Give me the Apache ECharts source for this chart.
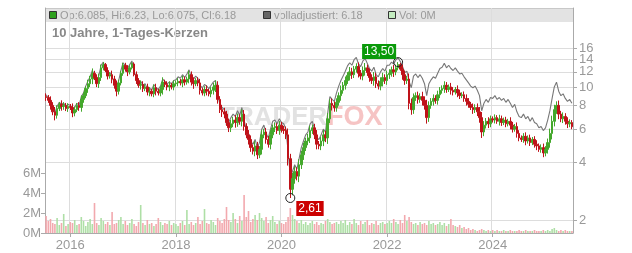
<!DOCTYPE html>
<html><head><meta charset="utf-8">
<script src="https://cdn.jsdelivr.net/npm/echarts@6/dist/echarts.min.js"></script>
<style>html,body{margin:0;padding:0;background:#fff}#c{width:632px;height:253px}</style>
</head><body><div id="c"></div>
<script>
// half-monthly periods starting 2015-07-16
const startYear = 2015, startMonth = 7, startDay = 16;
const periodCount = 240;
const yearTickLabels = ['2016-01-01','2018-01-01','2020-01-01','2022-01-01','2024-01-01'];
const priceTicks = [2,4,6,8,10,12,14,16];
const volumeTicks = [0,2,4,6]; // millions
const firstOpen = 8.9;
const closes = [
 8.8,8.5,8.0,7.4,7.1,7.7,8.1,7.9,8.0,7.7,7.9,7.8,
 7.3,7.6,8.0,7.8,8.6,9.0,9.8,10.4,11.0,11.8,11.2,10.4,11.2,12.6,13.1,12.2,11.4,11.6,11.0,10.2,9.5,10.5,11.8,13.0,
 12.4,12.0,12.6,13.2,11.6,10.8,10.2,10.3,9.8,10.0,9.4,9.5,9.2,9.9,9.5,9.3,9.7,10.6,10.3,10.0,10.2,10.0,10.4,10.5,
 10.7,10.5,10.9,10.6,11.0,11.6,10.6,10.4,10.8,10.5,9.6,9.3,9.7,9.5,9.2,9.6,10.0,10.2,8.6,7.6,7.4,7.2,6.5,6.1,
 6.4,6.7,6.5,6.9,6.6,7.2,6.2,5.6,5.3,4.8,4.6,4.9,4.4,4.7,5.6,5.8,5.3,5.0,5.6,6.1,6.2,5.9,6.3,6.0,
 5.9,5.6,4.2,2.9,3.3,3.6,3.4,3.9,4.4,4.8,5.2,5.4,5.9,6.1,5.6,5.0,4.9,5.2,5.6,5.4,6.8,8.2,8.0,7.8,
 8.3,9.0,9.6,10.2,10.8,11.5,12.0,11.6,12.4,12.8,11.8,11.4,12.2,12.6,11.9,11.2,10.8,11.3,10.4,10.1,10.7,11.2,10.8,11.6,
 11.8,12.3,12.0,12.6,13.1,12.4,11.6,10.8,11.0,8.2,7.6,8.8,9.0,8.6,8.9,8.5,8.0,6.9,8.0,8.4,8.7,8.5,9.1,9.6,
 9.8,10.2,9.7,10.0,9.6,9.4,9.7,9.3,9.0,9.1,8.7,8.4,8.1,7.8,7.6,7.8,7.4,6.9,5.8,6.3,6.6,6.4,6.8,6.7,
 6.9,6.6,6.8,6.5,6.7,6.4,6.6,6.3,6.0,6.2,5.7,5.4,5.3,5.5,5.2,5.4,5.1,5.3,5.0,4.9,4.7,4.8,4.5,4.7,
 5.1,5.7,6.6,7.6,8.0,7.2,6.8,7.0,6.6,6.4,6.5,6.18
];
// intraday range beyond the candle body, in percent, per period
const wickPct = [
 4,3,5,4,6,4,3,5,4,3,4,3,
 5,4,3,4,5,4,3,5,4,6,3,4,5,4,3,2,4,3,5,4,6,4,3,3,
 3,5,3,2,2,4,3,5,4,3,4,5,3,4,5,3,4,6,3,4,5,3,4,3,
 4,3,5,4,3,5,4,6,3,4,5,3,4,5,3,4,5,6,5,4,6,5,4,5,
 5,4,6,5,4,6,5,4,6,5,4,6,5,4,6,4,5,4,6,4,5,4,5,4,
 4,5,8,6,7,6,5,7,5,6,4,5,6,4,5,6,4,5,6,5,7,5,6,5,
 5,4,6,4,5,4,6,5,4,4,5,4,5,6,4,5,4,6,5,4,5,6,4,5,
 5,4,6,4,3,2,6,5,4,7,6,5,4,5,4,6,5,7,5,4,5,4,5,4,
 4,5,4,3,5,4,3,5,4,3,4,5,4,3,5,4,5,6,7,5,4,5,4,3,
 4,3,5,4,3,4,3,5,4,3,5,4,3,4,5,3,4,3,4,5,3,4,5,4,
 5,6,7,6,5,6,4,5,4,5,4,3
];
const adjusted = [
 9.1,8.8,8.2,7.6,7.3,7.9,8.3,8.1,8.2,7.9,8.1,8.0,
 7.5,7.8,8.2,8.0,8.9,9.3,10.1,10.7,11.3,12.2,11.5,10.7,11.5,13.0,13.5,12.6,11.7,11.9,11.3,10.5,9.8,10.8,12.2,13.4,
 12.9,12.5,13.1,13.7,12.1,11.2,10.6,10.7,10.2,10.4,9.8,9.9,9.6,10.3,9.9,9.7,10.1,11.0,10.7,10.4,10.6,10.4,10.8,10.9,
 11.3,11.1,11.6,11.2,11.7,12.3,11.2,11.0,11.4,11.1,10.2,9.9,10.3,10.1,9.8,10.2,10.6,10.8,9.1,8.1,7.8,7.6,6.9,6.5,
 6.9,7.2,7.0,7.5,7.1,7.8,6.7,6.0,5.7,5.2,5.0,5.3,4.8,5.1,6.0,6.3,5.7,5.4,6.0,6.6,6.7,6.4,6.8,6.5,
 6.4,6.0,4.6,3.4,3.6,3.9,3.7,4.2,4.8,5.2,5.6,5.8,6.4,6.6,6.0,5.4,5.3,5.6,6.0,5.8,7.3,8.9,8.6,8.4,
 9.3,10.1,10.8,11.4,12.1,12.9,13.4,13.0,13.9,14.3,13.2,12.8,13.7,14.1,13.3,12.5,12.1,12.7,11.6,11.3,12.0,12.5,12.1,13.0,
 13.0,13.5,13.2,13.9,14.2,13.6,12.8,11.9,12.1,10.7,9.9,11.4,11.7,11.2,11.6,11.1,10.4,9.0,10.4,10.9,11.3,11.1,11.8,12.5,
 12.7,13.3,12.6,13.0,12.5,12.2,12.6,12.1,11.7,11.8,11.3,10.9,10.5,10.1,9.9,10.1,9.6,9.0,7.5,8.2,8.6,8.3,8.8,8.7,
 9.0,8.6,8.8,8.5,8.7,8.3,8.6,8.2,7.8,8.1,7.4,7.0,6.9,7.2,6.8,7.0,6.6,6.9,6.5,6.4,6.1,6.2,5.9,6.1,
 6.7,7.5,8.7,10.0,10.6,9.5,9.0,9.2,8.7,8.4,8.6,8.2
];
const volumesM = [
 1.7,1.2,1.4,1.0,0.9,1.5,0.8,1.0,1.9,0.7,0.9,1.1,
 1.0,1.3,0.8,0.9,1.6,1.2,0.7,1.1,1.4,0.9,3.0,1.0,0.8,1.5,1.2,0.9,1.1,0.8,2.1,0.9,1.0,1.3,1.6,0.9,
 1.2,0.8,1.0,1.4,0.9,0.7,1.1,2.8,1.0,0.8,1.3,0.9,1.0,0.7,0.9,1.5,1.1,0.8,1.0,0.9,1.2,0.8,1.0,0.9,
 0.7,1.0,1.2,0.8,2.3,0.9,1.1,0.8,1.0,1.6,0.9,1.2,2.4,1.0,0.9,1.3,1.1,0.8,1.5,1.2,1.0,1.4,2.6,1.3,
 1.1,2.0,1.4,1.0,1.7,1.2,3.8,1.6,2.2,1.1,1.4,1.8,1.3,2.0,1.5,1.2,1.6,1.0,1.3,1.7,1.1,0.9,1.2,1.0,
 0.9,1.1,1.6,2.5,1.8,1.4,1.2,1.0,1.3,0.9,1.1,0.8,1.0,1.2,0.9,1.1,0.8,1.0,0.9,1.2,1.4,1.1,0.9,1.0,
 1.1,0.9,1.2,1.0,1.3,0.8,1.1,0.9,1.4,1.0,0.8,1.2,0.9,1.1,1.3,0.8,1.0,0.9,1.2,0.8,1.0,1.1,0.9,1.0,
 1.2,1.0,1.4,1.1,0.9,1.3,1.0,1.8,1.2,1.6,1.1,0.9,1.0,0.8,1.1,0.9,1.0,0.8,1.2,0.9,1.0,0.8,0.9,1.1,
 0.8,1.0,0.7,0.9,1.4,0.8,0.7,0.6,0.8,0.5,0.6,0.4,0.5,0.3,0.4,0.3,0.2,0.3,0.4,0.3,0.2,0.3,0.2,0.3,
 0.2,0.3,0.2,0.2,0.3,0.2,0.2,0.3,0.2,0.2,0.2,0.3,0.2,0.2,0.3,0.2,0.2,0.2,0.3,0.2,0.2,0.2,0.3,0.2,
 0.3,0.2,0.4,0.5,0.3,0.2,0.3,0.2,0.3,0.2,0.2,0.2
];
const extremeDates = ['2020-03-01','2022-03-16'];
const extremeValues = [2.61, 13.50];
const extremeLabels = ['2,61','13,50'];
const legendTexts = ['Op:6.085, Hi:6.23, Lo:6.075, Cl:6.18','volladjustiert: 6.18','Vol: 0M'];
const titleText = '10 Jahre, 1-Tages-Kerzen';

const FONT = '"Liberation Sans", Arial, sans-serif';
const pad = n => (n < 10 ? '0' : '') + n;
const categories = [];
{ let y = startYear, m = startMonth, d = startDay;
  for (let k = 0; k < periodCount; k++) {
    categories.push(y + '-' + pad(m) + '-' + pad(d));
    if (d === 1) d = 16; else { d = 1; m++; if (m > 12) { m = 1; y++; } }
  } }
const candles = [], volData = [];
for (let i = 0; i < closes.length; i++) {
  const o = i ? closes[i-1] : firstOpen, c = closes[i];
  let lo = Math.min(o, c) * (1 - wickPct[i] / 100), hi = Math.max(o, c) * (1 + wickPct[i] / 100);
  lo = Math.max(lo, extremeValues[0]); hi = Math.min(hi, extremeValues[1]);
  const ei = extremeDates.indexOf(categories[i]);
  if (ei === 0) lo = extremeValues[0];
  if (ei === 1) hi = extremeValues[1];
  candles.push([o, c, lo, hi]);
  volData.push({ value: volumesM[i], itemStyle: { color: c >= o ? '#aedfa6' : '#f2a9ae' } });
}
const isYearTick = (idx, val) => yearTickLabels.indexOf(val) >= 0;

const chart = echarts.init(document.getElementById('c'), null, { renderer: 'canvas' });
chart.setOption({
  animation: false,
  textStyle: { fontFamily: FONT },
  grid: { left: 45, right: 59, top: 8, bottom: 20 },
  xAxis: {
    type: 'category', data: categories, boundaryGap: true,
    axisLine: { lineStyle: { color: '#aaa' } },
    axisTick: { show: true, alignWithLabel: true, interval: isYearTick, length: 4, lineStyle: { color: '#aaa' } },
    axisLabel: { interval: isYearTick, formatter: v => v.slice(0, 4), color: '#999', fontSize: 13, margin: 6, fontFamily: FONT },
    splitLine: { show: true, interval: isYearTick, lineStyle: { color: '#ddd' } }
  },
  yAxis: [
    { type: 'log', logBase: 2, position: 'right', min: 1.709, max: 25.98,
      axisLine: { show: true, lineStyle: { color: '#aaa' } },
      axisTick: { show: true, customValues: priceTicks, length: 4, lineStyle: { color: '#aaa' } },
      axisLabel: { show: false, customValues: priceTicks },
      splitLine: { show: true, lineStyle: { color: '#ddd' } } },
    { type: 'value', position: 'left', min: 0, max: 22.5,
      axisLine: { show: true, lineStyle: { color: '#aaa' } },
      axisTick: { show: true, customValues: volumeTicks, length: 4, lineStyle: { color: '#aaa' } },
      axisLabel: { customValues: volumeTicks, hideOverlap: false, showMaxLabel: true, showMinLabel: true,
        formatter: v => v + 'M', color: '#999', fontSize: 13, margin: 4, fontFamily: FONT },
      splitLine: { show: false } }
  ],
  graphic: [
    { type: 'rect', z: -10, silent: true, shape: { x: 45, y: 8, width: 528, height: 14 }, style: { fill: '#e3e3e3' } },
    { type: 'line', z: -9, silent: true, shape: { x1: 45, y1: 8.5, x2: 573, y2: 8.5 }, style: { stroke: '#c8c8c8', lineWidth: 1 } },
    { type: 'rect', z: -8, shape: { x: 49.5, y: 11.5, width: 7, height: 7 }, style: { fill: '#2ea01e', stroke: '#333', lineWidth: 1 } },
    { type: 'text', z: -8, x: 60, y: 15.5, style: { text: legendTexts[0], fill: '#9a9a9a', font: '11px ' + FONT, verticalAlign: 'middle' } },
    { type: 'rect', z: -8, shape: { x: 263.5, y: 11.5, width: 7, height: 7 }, style: { fill: '#666', stroke: '#333', lineWidth: 1 } },
    { type: 'text', z: -8, x: 274, y: 15.5, style: { text: legendTexts[1], fill: '#9a9a9a', font: '11px ' + FONT, verticalAlign: 'middle' } },
    { type: 'rect', z: -8, shape: { x: 388.5, y: 11.5, width: 7, height: 7 }, style: { fill: '#c4ecc0', stroke: '#333', lineWidth: 1 } },
    { type: 'text', z: -8, x: 399, y: 15.5, style: { text: legendTexts[2], fill: '#9a9a9a', font: '11px ' + FONT, verticalAlign: 'middle' } },
    { type: 'text', z: -8, x: 52, y: 33, style: { text: titleText, fill: '#888', font: 'bold 13px ' + FONT, verticalAlign: 'middle' } },
    { type: 'text', z: -7, x: 219, y: 118, style: { text: 'TRADER', fill: '#e2e2e2', font: 'bold 26px ' + FONT, verticalAlign: 'middle' } },
    { type: 'text', z: -7, x: 327, y: 118, style: { text: 'FOX', fill: '#f6c4c4', font: 'bold 27px ' + FONT, verticalAlign: 'middle' } }
  ],
  series: [
    { name: 'Vol', type: 'bar', yAxisIndex: 1, data: volData, barWidth: 1.6, z: 1, silent: true },
    { name: 'volladjustiert', type: 'line', yAxisIndex: 0, data: adjusted, symbol: 'none', z: 2,
      lineStyle: { color: '#777', width: 1.1 },
      markLine: {
        silent: true, symbol: 'none', animation: false,
        lineStyle: { color: 'rgba(0,0,0,0)', width: 0 },
        label: { show: true, position: 'end', distance: 6, formatter: p => String(p.value), color: '#999', fontSize: 13, fontFamily: FONT },
        data: priceTicks.map(v => ({ yAxis: v }))
      } },
    { name: 'Kurs', type: 'candlestick', yAxisIndex: 0, data: candles, barWidth: 2, z: 3,
      itemStyle: { color: '#44a82c', color0: '#bf1219', borderColor: '#44a82c', borderColor0: '#bf1219', borderWidth: 1 },
      markPoint: {
        symbol: 'circle', symbolSize: 9,
        itemStyle: { color: 'rgba(255,255,255,0.01)', borderColor: '#222', borderWidth: 1 },
        label: { show: true, color: '#fff', fontSize: 12, fontFamily: FONT, padding: [2, 2, 1, 2] },
        data: [
          { coord: [extremeDates[0], extremeValues[0]], label: { formatter: extremeLabels[0], backgroundColor: '#cc0000', position: [11, 8] } },
          { coord: [extremeDates[1], extremeValues[1]], label: { formatter: extremeLabels[1], backgroundColor: '#0a9a0a', position: [-31, -13] } }
        ]
      } }
  ]
});
</script></body></html>
